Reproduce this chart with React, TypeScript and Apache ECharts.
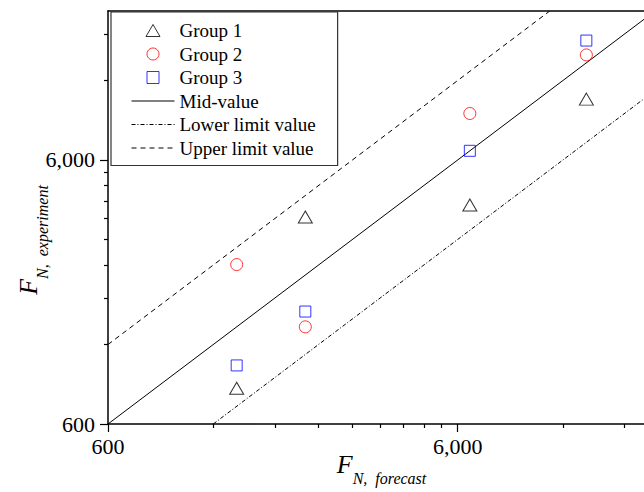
import React, { useEffect, useRef } from "react";
import * as echarts from "echarts";

// Log-log comparison of forecast and experimental normal force F_N.
const forecast = [1400, 2200, 6500, 14000];
const group1 = [820, 3650, 4050, 10200];
const group2 = [2410, 1400, 9000, 15000];
const group3 = [1000, 1600, 6500, 17000];

// Reference lines: y = x, y = x / 2 and y = 2x, given by their end points.
const midValue = [[600, 600], [22000, 22000]];
const lowerLimit = [[1200, 600], [22000, 11000]];
const upperLimit = [[600, 1200], [11000, 22000]];

const axisMin = 600;
const axisMax = 22000;
const majorTicks = [600, 6000];
const minorTicks = [1200, 1800, 2400, 3000, 3600, 4200, 4800, 5400, 12000, 18000];

const FONT = "Liberation Serif";

// Legend glyphs kept at their own proportions.
const TRIANGLE_ICON = "path://M7,0L14,12L0,12Z";
const SQUARE_ICON = "path://M0,0L11,0L11,11L0,11Z";

const fmt = (v: number) => String(Math.round(v)).replace(/\B(?=(\d{3})+(?!\d))/g, ",");

// Axis titles: a large italic F with a lowered italic subscript.
const nameRich = {
  f: { fontFamily: FONT, fontStyle: "italic", fontSize: 26, lineHeight: 26, color: "#000" },
  s: {
    fontFamily: FONT,
    fontStyle: "italic",
    fontSize: 16,
    lineHeight: 16,
    color: "#000",
    padding: [28, 0, 0, 0],
  },
};

const axisLineStyle = { color: "#000", width: 1.5 };

// Legend entries of the reference lines show only the line sample.
const lineLegendItem = (name: string) => ({
  name,
  itemStyle: { color: "transparent", borderWidth: 0, opacity: 0 },
});

export default function App() {
  const ref = useRef<HTMLDivElement>(null);

  useEffect(() => {
    if (!ref.current) return;
    const chart = echarts.init(ref.current, null, { renderer: "svg" });

    const mainAxis = {
      type: "log",
      logBase: 10,
      min: axisMin,
      max: axisMax,
      splitLine: { show: false },
      minorTick: { show: false },
      nameMoveOverlap: false,
      axisLine: { show: true, onZero: false, lineStyle: axisLineStyle },
      axisTick: { show: true, length: 8, customValues: majorTicks, lineStyle: { color: "#000", width: 1.2 } },
      axisLabel: {
        customValues: majorTicks,
        formatter: (v: number) => fmt(v),
        fontFamily: FONT,
        fontSize: 22,
        color: "#000",
      },
    };

    const minorAxis = {
      type: "log",
      logBase: 10,
      min: axisMin,
      max: axisMax,
      splitLine: { show: false },
      axisLine: { show: false },
      axisTick: { show: true, length: 4, customValues: minorTicks, lineStyle: { color: "#000", width: 1.2 } },
      axisLabel: { show: false },
    };

    const borderAxis = {
      type: "log",
      logBase: 10,
      min: axisMin,
      max: axisMax,
      splitLine: { show: false },
      axisLine: { show: true, onZero: false, lineStyle: axisLineStyle },
      axisTick: { show: false },
      axisLabel: { show: false },
    };

    const markerStyle = (color: string) => ({
      color: "transparent",
      borderColor: color,
      borderWidth: 1,
    });

    chart.setOption({
      animation: false,
      backgroundColor: "#fff",
      grid: {
        left: 108,
        top: 11,
        bottom: 68,
        right: -11,
        containLabel: false,
        outerBoundsMode: "none",
      },
      xAxis: [
        {
          ...mainAxis,
          position: "bottom",
          name: "{f|F}{s|N,  forecast}",
          nameLocation: "middle",
          nameGap: 27,
          nameTextStyle: { rich: nameRich },
          axisLabel: { ...mainAxis.axisLabel, margin: 11 },
        },
        { ...minorAxis, position: "bottom" },
        { ...borderAxis, position: "top" },
      ],
      yAxis: [
        {
          ...mainAxis,
          position: "left",
          name: "{f|F}{s|N,  experiment}",
          nameLocation: "middle",
          nameGap: 67,
          nameTextStyle: { rich: nameRich, padding: [0, 45, 0, 0] },
          axisLabel: { ...mainAxis.axisLabel, margin: 13 },
        },
        { ...minorAxis, position: "left" },
        { ...borderAxis, position: "right" },
      ],
      legend: {
        orient: "vertical",
        left: 111,
        top: 12,
        itemWidth: 43,
        itemHeight: 12,
        itemGap: 4.5,
        padding: [9, 22, 8, 20],
        borderColor: "#333",
        borderWidth: 1.2,
        backgroundColor: "#fff",
        symbolKeepAspect: true,
        textStyle: { fontFamily: FONT, fontSize: 19, lineHeight: 19, color: "#000" },
        itemStyle: { borderWidth: 1 },
        lineStyle: { width: 1 },
        data: [
          { name: "Group 1", icon: TRIANGLE_ICON },
          "Group 2",
          { name: "Group 3", icon: SQUARE_ICON },
          lineLegendItem("Mid-value"),
          lineLegendItem("Lower limit value"),
          lineLegendItem("Upper limit value"),
        ],
      },
      series: [
        {
          name: "Group 1",
          type: "scatter",
          symbol: "triangle",
          symbolSize: [14, 12],
          itemStyle: markerStyle("#000"),
          data: forecast.map((x, i) => [x, group1[i]]),
          z: 5,
        },
        {
          name: "Group 2",
          type: "scatter",
          symbol: "circle",
          symbolSize: 12,
          itemStyle: markerStyle("#ff0000"),
          data: forecast.map((x, i) => [x, group2[i]]),
          z: 5,
        },
        {
          name: "Group 3",
          type: "scatter",
          symbol: "rect",
          symbolSize: 11,
          itemStyle: markerStyle("#0000ff"),
          data: forecast.map((x, i) => [x, group3[i]]),
          z: 5,
        },
        {
          name: "Mid-value",
          type: "line",
          symbol: "none",
          lineStyle: { color: "#000", width: 1, type: "solid" },
          itemStyle: { color: "#000" },
          data: midValue,
        },
        {
          name: "Lower limit value",
          type: "line",
          symbol: "none",
          lineStyle: { color: "#000", width: 1, type: [4, 2, 1, 2] },
          itemStyle: { color: "#000" },
          data: lowerLimit,
        },
        {
          name: "Upper limit value",
          type: "line",
          symbol: "none",
          lineStyle: { color: "#000", width: 1, type: [5, 4] },
          itemStyle: { color: "#000" },
          data: upperLimit,
        },
      ],
    });

    return () => chart.dispose();
  }, []);

  return (
    <div
      ref={ref}
      style={{ position: "absolute", left: 0, top: 0, width: 644, height: 492, overflow: "hidden" }}
    />
  );
}
